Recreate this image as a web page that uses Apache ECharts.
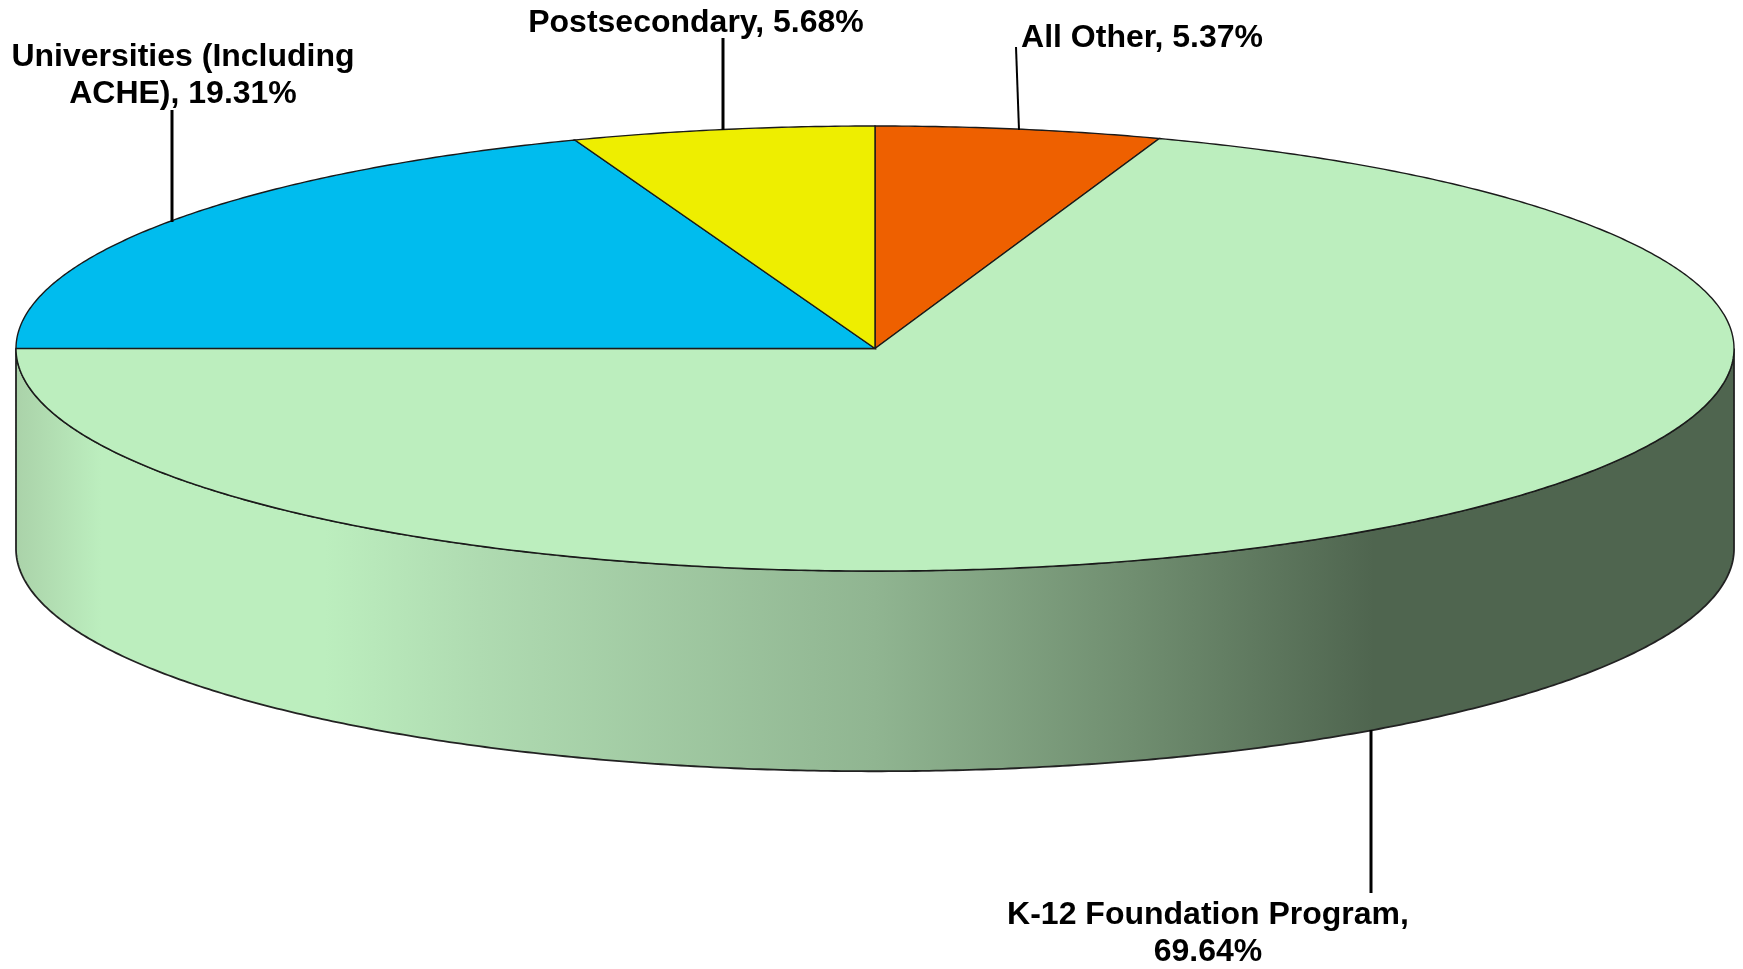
<!DOCTYPE html>
<html>
<head>
<meta charset="utf-8">
<style>
  html, body { margin: 0; padding: 0; background: #fff; }
  #chart { width: 1743px; height: 969px; }
</style>
</head>
<body>
<div id="chart"></div>
<script src="https://cdn.jsdelivr.net/npm/echarts@6/dist/echarts.min.js"></script>
<script>
// slices go clockwise from 12 o'clock
const categories = ['All Other', 'K-12 Foundation Program', 'Universities (Including\nACHE)', 'Postsecondary']
const shares = [5.37, 69.64, 19.31, 5.68]
const labelSeparators = [' ', '\n', ' ', ' ']
const sliceColors = ['#EE6000', '#BCEEBE', '#00BCEE', '#EEEE00']

// depth of the pie wall, in axis units (1 = the top ellipse's half height)
const wallDepth = 0.9

// label anchor and leader line, in pixels
const labelLayout = [
  { x: 1142, y: 38, width: 2, line: [[1016, 47], [1019, 130]] },
  { x: 1208, y: 934, width: 3, line: [[1371, 730], [1371, 893]] },
  { x: 183, y: 76, width: 3, line: [[172, 110], [172, 222]] },
  { x: 696, y: 23, width: 3, line: [[723, 38], [723, 130]] }
]

const chart = echarts.init(document.getElementById('chart'))

function arc(api, startPct, endPct, drop) {
  const points = []
  const steps = Math.max(2, Math.ceil(Math.abs(endPct - startPct) * 8))
  for (let i = 0; i <= steps; i++) {
    const a = (startPct + (endPct - startPct) * i / steps) / 100 * Math.PI * 2
    points.push(api.coord([Math.sin(a), Math.cos(a) - drop]))
  }
  return points
}

const sliceData = []
let cum = 0
shares.forEach(v => {
  sliceData.push([cum, cum + v])
  cum += v
})

chart.setOption({
  animation: false,
  backgroundColor: '#fff',
  grid: { left: 16, right: 9, top: 126, height: 445 },
  xAxis: { type: 'value', min: -1, max: 1, show: false },
  yAxis: { type: 'value', min: -1, max: 1, show: false },
  series: [
    {
      // wall, front half of the cylinder
      type: 'custom',
      silent: true,
      data: [[25, 75]],
      renderItem(params, api) {
        const top = arc(api, api.value(0), api.value(1), 0)
        const bottom = arc(api, api.value(1), api.value(0), wallDepth)
        return {
          type: 'polygon',
          shape: { points: top.concat(bottom) },
          style: {
            fill: new echarts.graphic.LinearGradient(0, 0, 1, 0, [
              { offset: 0, color: '#AAD2A9' },
              { offset: 0.05, color: '#BCEEBE' },
              { offset: 0.18, color: '#BCEEBE' },
              { offset: 0.27, color: '#AFDBB1' },
              { offset: 0.5, color: '#90B591' },
              { offset: 0.65, color: '#708E70' },
              { offset: 0.79, color: '#4F654F' },
              { offset: 1, color: '#4F654F' }
            ]),
            stroke: '#222',
            lineWidth: 1.8
          }
        }
      }
    },
    {
      type: 'custom',
      silent: true,
      data: sliceData,
      renderItem(params, api) {
        const center = api.coord([0, 0])
        return {
          type: 'polygon',
          shape: { points: [center].concat(arc(api, api.value(0), api.value(1), 0)) },
          style: {
            fill: sliceColors[params.dataIndex],
            stroke: '#1a1a1a',
            lineWidth: 1.4
          }
        }
      }
    },
    {
      // labels and leaders
      type: 'custom',
      silent: true,
      data: shares.map((v, i) => [i, v]),
      renderItem(params, api) {
        const i = params.dataIndex
        const layout = labelLayout[i]
        return {
          type: 'group',
          children: [
            {
              type: 'polyline',
              shape: { points: layout.line },
              style: { stroke: '#000', lineWidth: layout.width, fill: null }
            },
            {
              type: 'text',
              style: {
                text: categories[i] + ',' + labelSeparators[i] + shares[i].toFixed(2) + '%',
                x: layout.x,
                y: layout.y,
                align: 'center',
                verticalAlign: 'middle',
                font: 'bold 32px "Liberation Sans", Arial, sans-serif',
                lineHeight: 37,
                fill: '#000'
              }
            }
          ]
        }
      }
    }
  ]
})
</script>
</body>
</html>
